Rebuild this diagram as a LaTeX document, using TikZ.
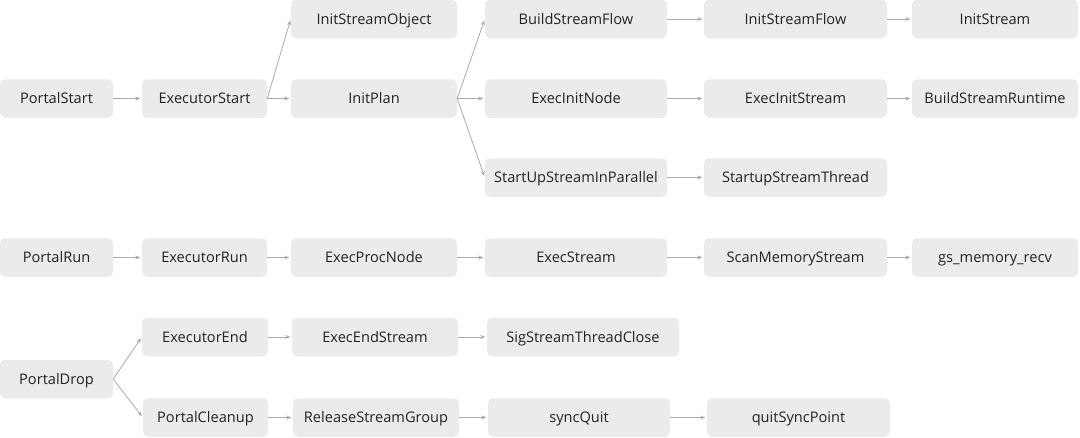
\documentclass[tikz,border=0pt]{standalone}
\usepackage{fontspec}
\setmainfont{Open Sans}
\usetikzlibrary{arrows.meta}
\definecolor{boxgray}{HTML}{EBEBEB}
\definecolor{txtgray}{HTML}{222222}
\definecolor{linegray}{HTML}{AAAAAA}
\tikzset{
  box/.style={rectangle, rounded corners=5pt, fill=boxgray, draw=none,
    minimum height=38.5pt, inner sep=0pt, text=txtgray,
    text height=13pt, text depth=2.6pt,
    font=\fontsize{14.6pt}{17pt}\selectfont},
  conn/.style={draw=linegray, line width=0.8pt,
    -{Stealth[length=5pt,width=4pt]}, shorten >=1.5pt}
}
\begin{document}
\begin{tikzpicture}[x=1pt,y=-1pt]
\useasboundingbox (0,0) rectangle (1080,437);
% row 1
\node[box, minimum width=166pt] (iso) at (374,19) {InitStreamObject};
\node[box, minimum width=182pt] (bsf) at (576,19) {BuildStreamFlow};
\node[box, minimum width=183pt] (isf) at (795.5,19) {InitStreamFlow};
\node[box, minimum width=166pt] (ist) at (995,19) {InitStream};
% row 2
\node[box, minimum width=113pt] (ps) at (56.5,98.5) {PortalStart};
\node[box, minimum width=125pt] (es) at (204.5,98.5) {ExecutorStart};
\node[box, minimum width=166pt] (ip) at (374,98.5) {InitPlan};
\node[box, minimum width=182pt] (ein) at (576,98.5) {ExecInitNode};
\node[box, minimum width=183pt] (eis) at (795.5,98.5) {ExecInitStream};
\node[box, minimum width=166pt] (bsr) at (995,98.5) {BuildStreamRuntime};
% row 3
\node[box, minimum width=182pt] (sup) at (576,177.5) {StartUpStreamInParallel};
\node[box, minimum width=183pt] (sst) at (795.5,177.5) {StartupStreamThread};
% row 4
\node[box, minimum width=113pt] (pr) at (56.5,257.5) {PortalRun};
\node[box, minimum width=125pt] (er) at (204.5,257.5) {ExecutorRun};
\node[box, minimum width=166pt] (epn) at (374,257.5) {ExecProcNode};
\node[box, minimum width=182pt] (exs) at (576,257.5) {ExecStream};
\node[box, minimum width=183pt] (sms) at (795.5,257.5) {ScanMemoryStream};
\node[box, minimum width=166pt] (gmr) at (995,257.5) {gs\_memory\_recv};
% row 5
\node[box, minimum width=126pt] (ee) at (205,337) {ExecutorEnd};
\node[box, minimum width=166pt] (ees) at (375,337) {ExecEndStream};
\node[box, minimum width=192pt] (stc) at (583,337) {SigStreamThreadClose};
% portal drop
\node[box, minimum width=113pt] (pd) at (56.5,379) {PortalDrop};
% row 6
\node[box, minimum width=125pt] (pc) at (205.5,417.5) {PortalCleanup};
\node[box, minimum width=166pt] (rsg) at (376,417.5) {ReleaseStreamGroup};
\node[box, minimum width=182pt] (sq) at (579,417.5) {syncQuit};
\node[box, minimum width=183pt] (qsp) at (798.5,417.5) {quitSyncPoint};
% connectors
\draw[conn] (ps.east) -- (es.west);
\draw[conn] (es.east) -- (iso.west);
\draw[conn] (es.east) -- (ip.west);
\draw[conn] (ip.east) -- (bsf.west);
\draw[conn] (ip.east) -- (ein.west);
\draw[conn] (ip.east) -- (sup.west);
\draw[conn] (bsf.east) -- (isf.west);
\draw[conn] (isf.east) -- (ist.west);
\draw[conn] (ein.east) -- (eis.west);
\draw[conn] (eis.east) -- (bsr.west);
\draw[conn] (sup.east) -- (sst.west);
\draw[conn] (pr.east) -- (er.west);
\draw[conn] (er.east) -- (epn.west);
\draw[conn] (epn.east) -- (exs.west);
\draw[conn] (exs.east) -- (sms.west);
\draw[conn] (sms.east) -- (gmr.west);
\draw[conn] (pd.east) -- (ee.west);
\draw[conn] (pd.east) -- (pc.west);
\draw[conn] (ee.east) -- (ees.west);
\draw[conn] (ees.east) -- (stc.west);
\draw[conn] (pc.east) -- (rsg.west);
\draw[conn] (rsg.east) -- (sq.west);
\draw[conn] (sq.east) -- (qsp.west);
\end{tikzpicture}
\end{document}
